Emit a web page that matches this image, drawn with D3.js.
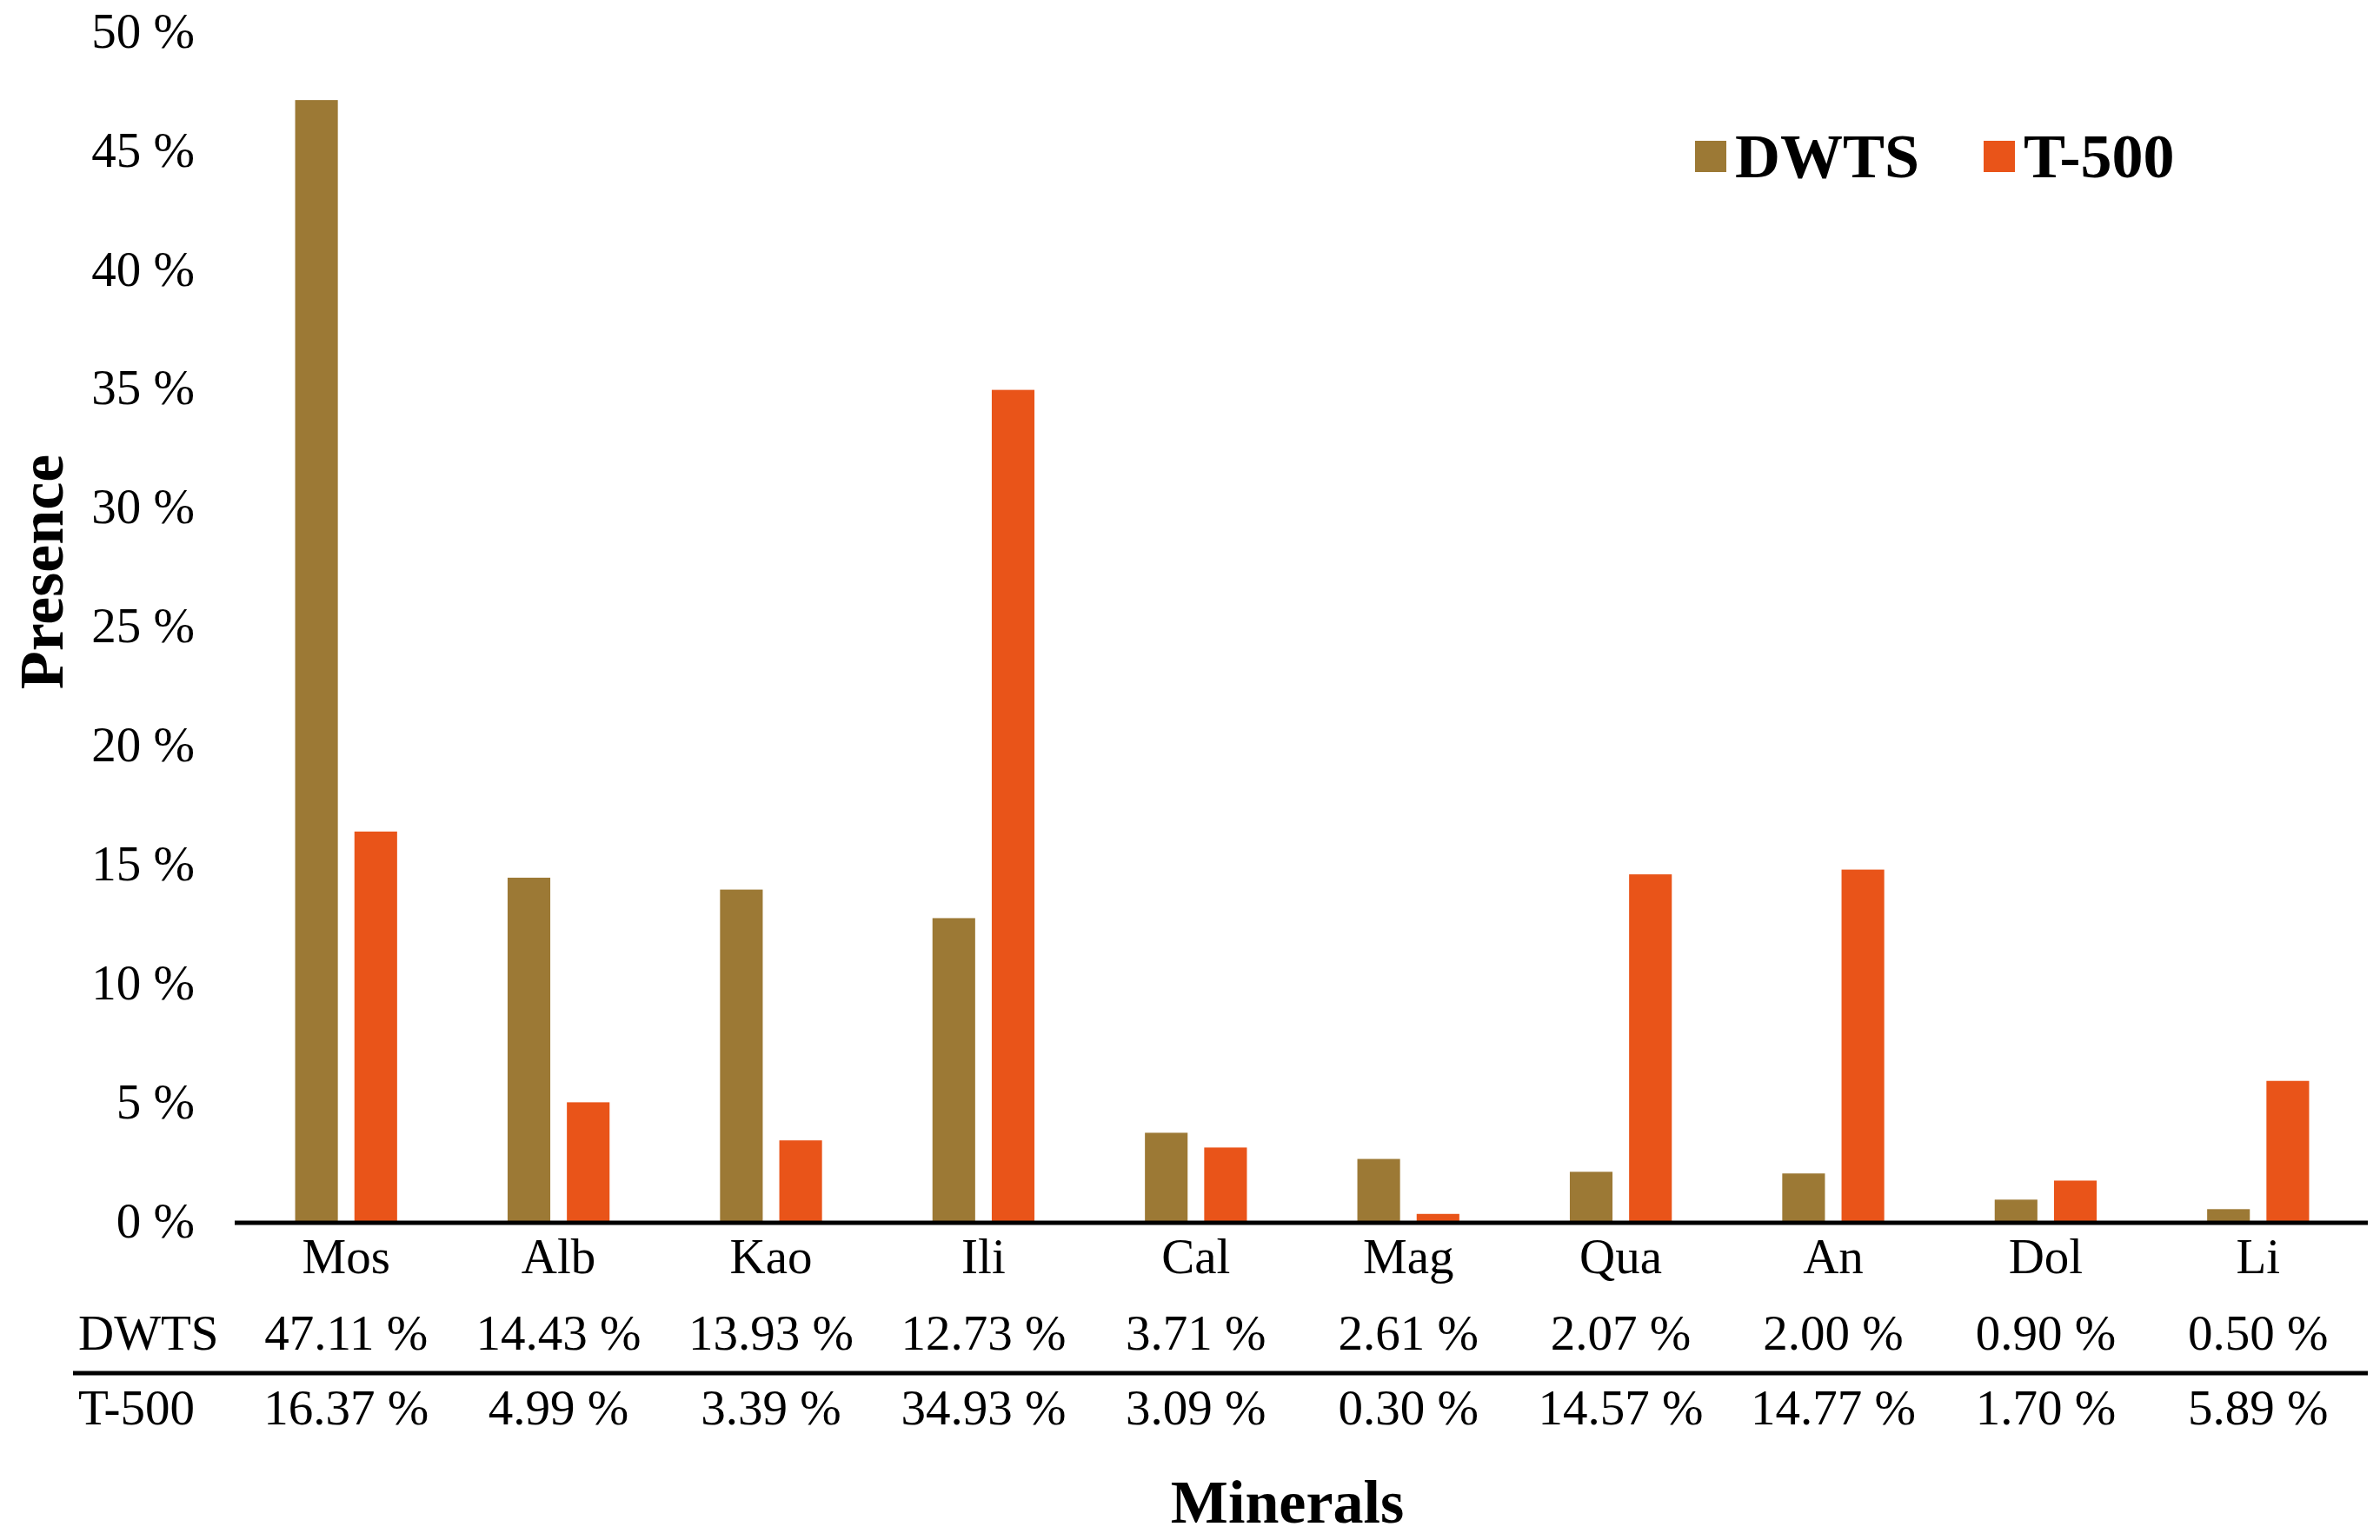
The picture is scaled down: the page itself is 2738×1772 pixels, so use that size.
<!DOCTYPE html>
<html>
<head>
<meta charset="utf-8">
<script src="https://cdn.jsdelivr.net/npm/d3@7"></script>
<style>
  body { margin: 0; background: #fff; }
  text { font-family: "Liberation Serif", "Times New Roman", serif; fill: #000; }
</style>
</head>
<body>
<div id="chart"></div>
<script>
const minerals = ["Mos", "Alb", "Kao", "Ili", "Cal", "Mag", "Qua", "An", "Dol", "Li"];
const series = ["DWTS", "T-500"];
const dwts = [47.11, 14.43, 13.93, 12.73, 3.71, 2.61, 2.07, 2.00, 0.90, 0.50];
const t500 = [16.37, 4.99, 3.39, 34.93, 3.09, 0.30, 14.57, 14.77, 1.70, 5.89];
const yTicks = [0, 5, 10, 15, 20, 25, 30, 35, 40, 45, 50];
const colors = ["#9c7935", "#e95419"];

const W = 2738, H = 1772;
const x0 = 276, x1 = 2720, yTop = 36, yBase = 1405;
const fs = "57px";

const svg = d3.select("#chart").append("svg")
    .attr("width", W)
    .attr("height", H);

const x = d3.scaleBand()
    .domain(minerals)
    .range([x0, x1])
    .paddingInner(0.52)
    .paddingOuter(0.26);

const xs = d3.scaleBand()
    .domain(series)
    .range([0, x.bandwidth()])
    .paddingInner(0.28);

const y = d3.scaleLinear()
    .domain([0, 50])
    .range([yBase, yTop]);

// y axis labels only
const yAxis = svg.append("g")
    .attr("transform", "translate(224,0)")
    .call(d3.axisLeft(y).tickValues(yTicks).tickSize(0).tickPadding(0).tickFormat(d => d + " %"));
yAxis.select(".domain").remove();
yAxis.selectAll("text")
    .style("font-family", "Liberation Serif")
    .style("font-size", fs)
    .attr("fill", "#000");

const rows = minerals.map((m, i) => ({ mineral: m, values: [dwts[i], t500[i]] }));

svg.append("g")
    .selectAll("g")
    .data(rows)
    .enter()
    .append("g")
    .attr("transform", d => "translate(" + x(d.mineral) + ",0)")
    .selectAll("rect")
    .data(d => d.values.map((v, j) => ({ key: series[j], value: v, j: j })))
    .enter()
    .append("rect")
    .attr("x", d => xs(d.key))
    .attr("width", xs.bandwidth())
    .attr("y", d => y(d.value))
    .attr("height", d => yBase - y(d.value))
    .attr("fill", d => colors[d.j]);

// baseline
svg.append("line")
    .attr("x1", x0 - 6).attr("x2", x1 + 4)
    .attr("y1", yBase + 2).attr("y2", yBase + 2)
    .attr("stroke", "#000").attr("stroke-width", 5);

// category labels
svg.append("g")
    .selectAll("text")
    .data(minerals)
    .enter()
    .append("text")
    .attr("x", d => x(d) + x.bandwidth() / 2)
    .attr("y", 1465)
    .attr("text-anchor", "middle")
    .style("font-size", fs)
    .text(d => d);

// data table
const tableRows = [
    { name: "DWTS", values: dwts, y: 1553 },
    { name: "T-500", values: t500, y: 1639 }
];

tableRows.forEach(r => {
    svg.append("text")
        .attr("x", 90)
        .attr("y", r.y)
        .style("font-size", fs)
        .text(r.name);
    svg.append("g")
        .selectAll("text")
        .data(r.values)
        .enter()
        .append("text")
        .attr("x", (d, i) => x(minerals[i]) + x.bandwidth() / 2)
        .attr("y", r.y)
        .attr("text-anchor", "middle")
        .style("font-size", fs)
        .text(d => d.toFixed(2) + " %");
});

svg.append("line")
    .attr("x1", 84).attr("x2", x1 + 4)
    .attr("y1", 1580).attr("y2", 1580)
    .attr("stroke", "#000").attr("stroke-width", 5);

// axis titles
svg.append("text")
    .attr("x", 1481)
    .attr("y", 1752)
    .attr("text-anchor", "middle")
    .style("font-size", "70px")
    .style("font-weight", "bold")
    .text("Minerals");

svg.append("text")
    .attr("transform", "translate(72,658) rotate(-90)")
    .attr("text-anchor", "middle")
    .style("font-size", "72px")
    .style("font-weight", "bold")
    .text("Presence");

// legend
const legend = svg.append("g");
const legendX = [1950, 2282];
series.forEach((s, i) => {
    legend.append("rect")
        .attr("x", legendX[i])
        .attr("y", 162)
        .attr("width", 36)
        .attr("height", 36)
        .attr("fill", colors[i]);
    legend.append("text")
        .attr("x", legendX[i] + 46)
        .attr("y", 204)
        .style("font-size", "72px")
        .style("font-weight", "bold")
        .text(s);
});
</script>
</body>
</html>
